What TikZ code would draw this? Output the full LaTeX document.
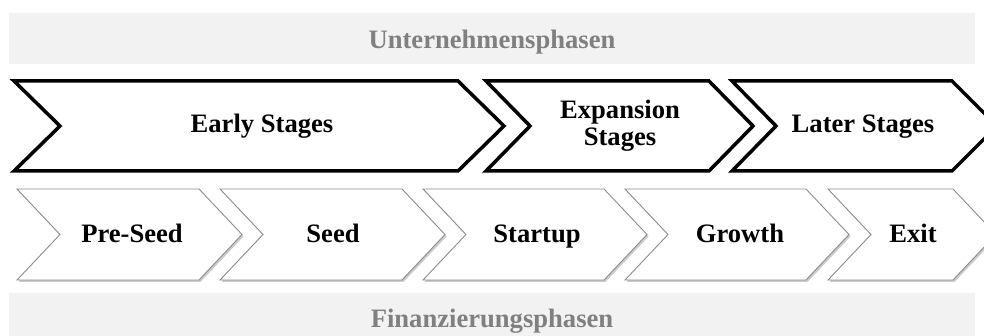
\documentclass[tikz,border=0pt]{standalone}
\usepackage{fontspec}
\setmainfont{Liberation Serif}
\usetikzlibrary{shadows}
\definecolor{bandgray}{HTML}{F2F2F2}
\definecolor{bandtext}{HTML}{808080}
\definecolor{smallborder}{HTML}{8C8C8C}
\tikzset{
  band/.style={fill=bandgray, draw=none},
  bandlabel/.style={text=bandtext, font=\fontsize{26.6}{27}\selectfont\bfseries, anchor=base, inner sep=0pt},
  stagelabel/.style={text=black, font=\fontsize{26.6}{27}\selectfont\bfseries, anchor=base, inner sep=0pt},
  bigchev/.style={draw=black, line width=3.5pt, fill=white, line join=miter, miter limit=10},
  smallchev/.style={draw=smallborder, line width=0.9pt, fill=white, line join=miter,
    drop shadow={shadow xshift=1.5pt, shadow yshift=-2pt, fill=black!45, opacity=0.45}},
}
\begin{document}
\begin{tikzpicture}[x=1pt,y=-1pt]
\useasboundingbox (0,0) rectangle (984,336);
\clip (0,0) rectangle (984,336);
\fill[white] (0,0) rectangle (984,336);
% bands
\path[band] (9,13) rectangle (975,64);
\path[band] (9,293) rectangle (975,336);
\node[bandlabel] (unt) at (492,49) {Unternehmensphasen};
\node[bandlabel] (fin) at (492,327) {Finanzierungsphasen};
% top chevrons
\draw[bigchev] (14,81) -- (458,81) -- (504,126) -- (458,171) -- (14,171) -- (60,126) -- cycle;
\draw[bigchev] (486,81) -- (709,81) -- (753,126) -- (709,171) -- (486,171) -- (530,126) -- cycle;
\draw[bigchev] (732,81) -- (952,81) -- (997,126) -- (952,171) -- (732,171) -- (776,126) -- cycle;
\node[stagelabel] (early) at (262,133) {Early Stages};
\node[stagelabel] (exp1) at (620,119) {Expansion};
\node[stagelabel] (exp2) at (620,146) {Stages};
\node[stagelabel] (later) at (863,133) {Later Stages};
% bottom chevrons
\path[smallchev] (17,189) -- (199,189) -- (242,234.5) -- (199,280) -- (17,280) -- (60,234.5) -- cycle;
\path[smallchev] (220,189) -- (402,189) -- (445,234.5) -- (402,280) -- (220,280) -- (263,234.5) -- cycle;
\path[smallchev] (423,189) -- (604,189) -- (647,234.5) -- (604,280) -- (423,280) -- (466,234.5) -- cycle;
\path[smallchev] (625,189) -- (806,189) -- (849,234.5) -- (806,280) -- (625,280) -- (668,234.5) -- cycle;
\path[smallchev] (828,189) -- (953,189) -- (996,234.5) -- (953,280) -- (828,280) -- (871,234.5) -- cycle;
\node[stagelabel] (preseed) at (132,243) {Pre-Seed};
\node[stagelabel] (seed) at (333,243) {Seed};
\node[stagelabel] (startup) at (537,243) {Startup};
\node[stagelabel] (growth) at (740,243) {Growth};
\node[stagelabel] (exit) at (913,243) {Exit};
\end{tikzpicture}
\end{document}
